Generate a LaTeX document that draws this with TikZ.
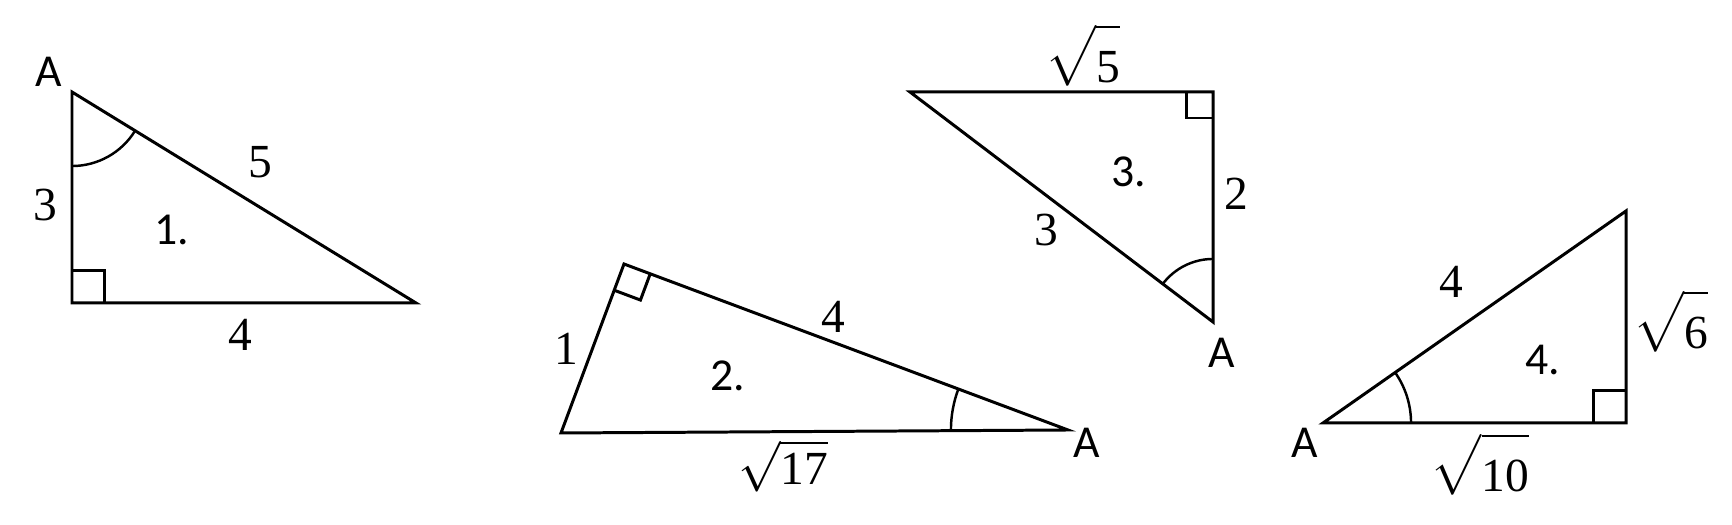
\documentclass[tikz,border=0pt]{standalone}
\usepackage{amsmath}
\usepackage{fontspec}
\setmainfont{Carlito}
\newfontfamily\numfont{Liberation Serif}
\usetikzlibrary{calc,angles}

\tikzset{
  side/.style={line width=0.85pt, line join=miter},
  arcmark/.style={draw, line width=0.7pt},
  len/.style={inner sep=0pt, font=\fontsize{13.5}{16}\selectfont\numfont},
  vert/.style={inner sep=0pt, font=\fontsize{13}{16}\selectfont},
  nr/.style={inner sep=0pt, font=\fontsize{13}{16}\selectfont}
}

\begin{document}
\begin{tikzpicture}[x=0.01cm,y=-0.01cm]
  \useasboundingbox (0,0) rectangle (1732,525);

  % Dreieck 1
  \coordinate (A1) at (72,92);
  \coordinate (C1) at (72,303);
  \coordinate (B1) at (416,303);
  \draw[side] (A1) -- (C1) -- (B1) -- cycle;
  \coordinate (p1) at ($(C1)!0.32cm!(A1)$);
  \coordinate (q1) at ($(C1)!0.32cm!(B1)$);
  \draw[side] (p1) -- ($(p1)+(q1)-(C1)$) -- (q1);
  \pic[arcmark, angle radius=0.74cm] {angle = C1--A1--B1};

  \node[vert] (a1) at (49,72) {A};
  \node[len] (s13) at (45,205) {3};
  \node[len] (s15) at (260,162) {5};
  \node[len] (s14) at (240,335) {4};
  \node[nr] (n1) at (172,230) {1.};

  % Dreieck 2
  \coordinate (R2) at (624,264);
  \coordinate (L2) at (561,433);
  \coordinate (A2) at (1068,430);
  \draw[side] (R2) -- (L2) -- (A2) -- cycle;
  \coordinate (p2) at ($(R2)!0.28cm!(L2)$);
  \coordinate (q2) at ($(R2)!0.28cm!(A2)$);
  \draw[side] (p2) -- ($(p2)+(q2)-(R2)$) -- (q2);
  \pic[arcmark, angle radius=1.17cm] {angle = R2--A2--L2};

  \node[vert] (a2) at (1087,443) {A};
  \node[len] (s21) at (566,349) {1};
  \node[len] (s24) at (833,317) {4};
  \node[len] (s217) at (783,466) {$\sqrt{\mbox{\numfont 17}}$};
  \node[nr] (n2) at (728,376) {2.};

  % Dreieck 3
  \coordinate (T3) at (910,92);
  \coordinate (R3) at (1213,92);
  \coordinate (A3) at (1213,322);
  \draw[side] (T3) -- (R3) -- (A3) -- cycle;
  \coordinate (p3) at ($(R3)!0.26cm!(T3)$);
  \coordinate (q3) at ($(R3)!0.26cm!(A3)$);
  \draw[side] (p3) -- ($(p3)+(q3)-(R3)$) -- (q3);
  \pic[arcmark, angle radius=0.63cm] {angle = R3--A3--T3};

  \node[vert] (a3) at (1222,353) {A};
  \node[len] (s35) at (1083,55) {$\sqrt{\rule{0pt}{14pt}\mbox{\numfont 5}}$};
  \node[len] (s32) at (1236,194) {2};
  \node[len] (s33) at (1046,230) {3};
  \node[nr] (n3) at (1129,172) {3.};

  % Dreieck 4
  \coordinate (A4) at (1323,423);
  \coordinate (R4) at (1626,423);
  \coordinate (T4) at (1626,211);
  \draw[side] (A4) -- (R4) -- (T4) -- cycle;
  \coordinate (p4) at ($(R4)!0.32cm!(A4)$);
  \coordinate (q4) at ($(R4)!0.32cm!(T4)$);
  \draw[side] (p4) -- ($(p4)+(q4)-(R4)$) -- (q4);
  \pic[arcmark, angle radius=0.88cm] {angle = R4--A4--T4};

  \node[vert] (a4) at (1305,443) {A};
  \node[len] (s44) at (1451,282) {4};
  \node[len] (s46) at (1671,321) {$\sqrt{\rule{0pt}{14pt}\mbox{\numfont 6}}$};
  \node[len] (s410) at (1480,464) {$\sqrt{\rule{0pt}{14pt}\mbox{\numfont 10}}$};
  \node[nr] (n4) at (1543,360) {4.};

\end{tikzpicture}
\end{document}
